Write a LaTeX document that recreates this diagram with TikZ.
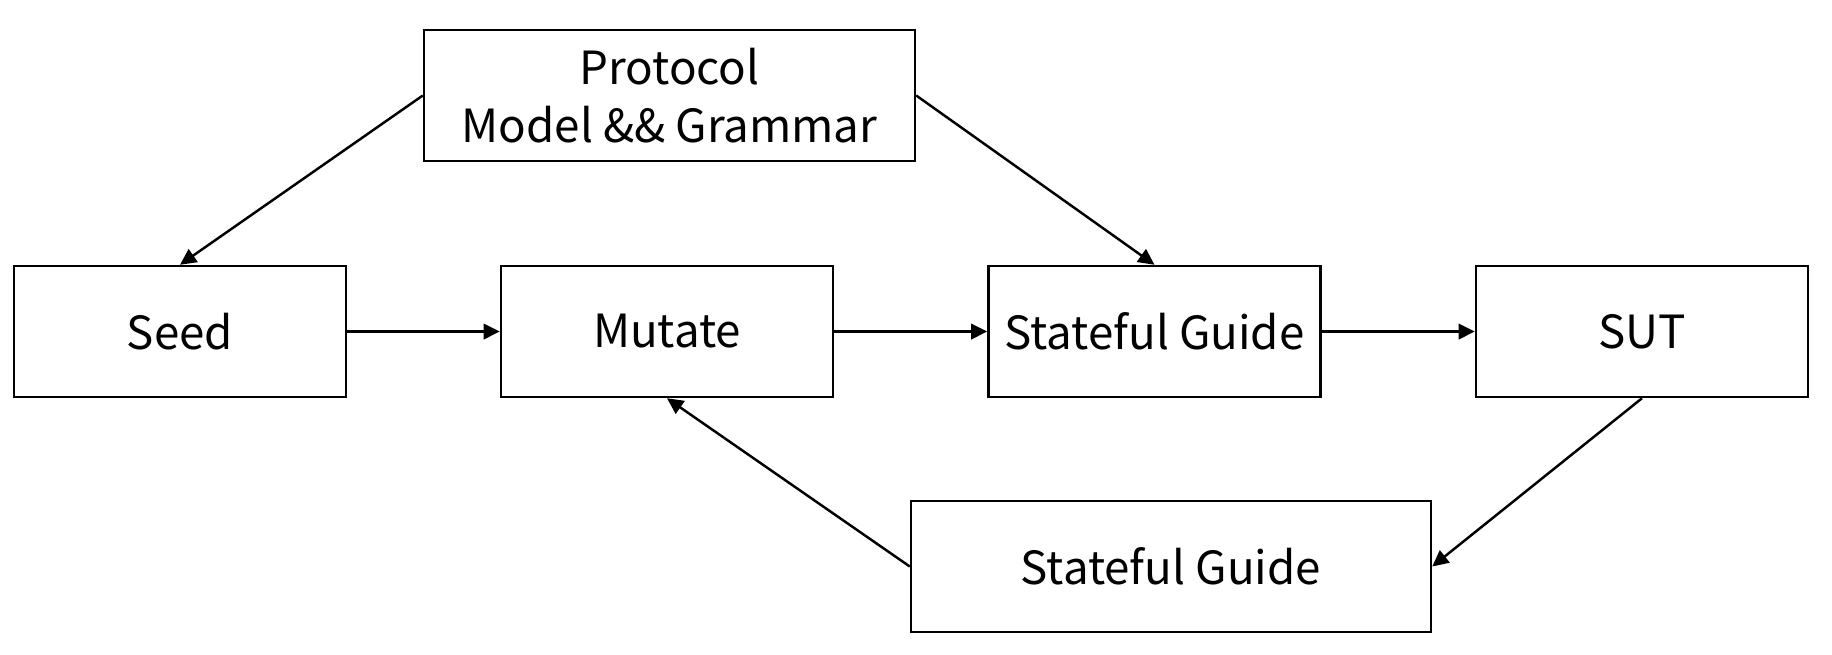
\documentclass[tikz,border=0pt]{standalone}
\usepackage{fontspec}
\setmainfont{Noto Sans CJK SC}
\usetikzlibrary{positioning, arrows.meta}

\begin{document}
\begin{tikzpicture}[>={Triangle[length=4.6pt,width=4.4pt]}, % Arrow tip style
    block/.style={draw, line width=0.7pt, rectangle, inner sep=0pt, minimum width=3.32cm, minimum height=1.31cm, align=center, font=\fontsize{13}{16.4}\selectfont},
    link/.style={line width=0.7pt, ->}]
                \useasboundingbox (0,0) rectangle (18.32,-6.54);
                % Define the boxes
                \node[block, minimum width=4.91cm] (proto) at (6.695,-0.955) {Protocol\\Model \&\& Grammar};
                \node[block] (seed) at (1.80,-3.315) {Seed};
                \node[block] (mutate) at (6.67,-3.315) {Mutate};
                \node[block] (guide) at (11.545,-3.315) {Stateful Guide};
                \node[block] (sut) at (16.42,-3.315) {SUT};
                \node[block, minimum width=5.20cm] (feedback) at (11.71,-5.665) {Stateful Guide};
                
                % Draw the main chain
                \draw[link] (seed) -- (mutate);
                \draw[link] (mutate) -- (guide);
                \draw[link] (guide) -- (sut);
                
                % Protocol model feeds seed and guide
                \draw[link] (proto.west) -- (seed.north);
                \draw[link] (proto.east) -- (guide.north);
                
                % Feedback loop back to mutate
                \draw[link] (sut.south) -- (feedback.east);
                \draw[link] (feedback.west) -- (mutate.south);
            \end{tikzpicture}
\end{document}
